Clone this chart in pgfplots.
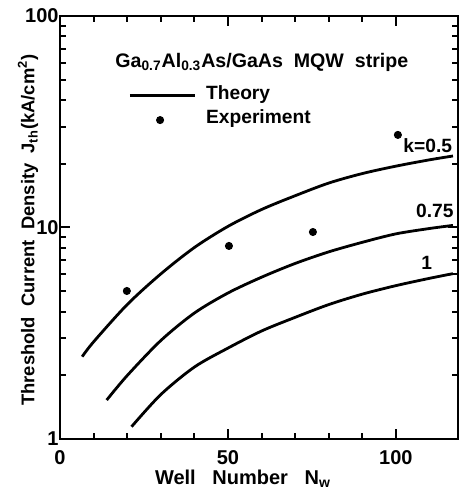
\documentclass[border=0pt]{standalone}
\usepackage{fontspec}
\setmainfont{Liberation Sans}
\usepackage{pgfplots}
\pgfplotsset{compat=1.18}

\begin{document}
\begin{tikzpicture}[font=\bfseries]
\begin{axis}[at={(0,0)}, anchor=south west,
  scale only axis, width=199pt, height=211.5pt,
  ymode=log, xmin=0, xmax=118.5, ymin=1, ymax=100,
  xtick={0,50,100}, minor x tick num=4,
  ytick={1,10,100}, yticklabels={1,10,100},
  tick align=inside, major tick length=5pt, minor tick length=3pt,
  every tick/.style={line width=1pt},
  axis line style={line width=1.4pt},
  /pgf/number format/assume math mode=true,
  ticklabel style={font=\bfseries\fontsize{10}{12}\selectfont},
  yticklabel style={inner xsep=0.5pt},
  xticklabel style={yshift=-2pt},
  clip=false]

% theory, k = 0.5
\addplot[smooth, line width=1.4pt] coordinates {
  (6.6,2.45) (10,2.88) (20,4.32) (30,6.03) (40,8.04) (50,10.12) (60,12.16)
  (70,14.13) (80,16.22) (90,17.99) (100,19.50) (110,20.89) (117,21.78)};
% theory, k = 0.75
\addplot[smooth, line width=1.4pt] coordinates {
  (13.9,1.528) (20,1.995) (30,2.92) (40,3.94) (50,4.90) (60,5.82)
  (70,6.76) (80,7.67) (90,8.51) (100,9.33) (110,9.89) (117,10.23)};
% theory, k = 1
\addplot[smooth, line width=1.4pt] coordinates {
  (21.3,1.143) (30,1.622) (40,2.188) (50,2.69) (60,3.24) (70,3.76)
  (80,4.32) (90,4.84) (100,5.31) (110,5.75) (117,6.05)};
% experiment
\addplot[only marks, mark=*, mark size=1.8pt] coordinates {
  (19.9,5.01) (50.3,8.18) (75.3,9.52) (100.6,27.4)};

% legend
\addplot[line width=1.4pt] coordinates {(20.8,41.9) (40.2,41.9)};
\addplot[only marks, mark=*, mark size=1.8pt] coordinates {(29.8,32.2)};
\node[anchor=west, font=\bfseries\fontsize{9.6}{12}\selectfont] at (axis cs:41.4,42.5) {Theory};
\node[anchor=west, font=\bfseries\fontsize{9.6}{12}\selectfont] at (axis cs:41.4,32.6) {Experiment};
\node[font=\bfseries\fontsize{9.8}{12}\selectfont] at (axis cs:60.1,60) {Ga\textsubscript{0.7}Al\textsubscript{0.3}As/GaAs\ \ MQW\ \ stripe};

% curve labels
\node[font=\bfseries\fontsize{9.6}{12}\selectfont] at (axis cs:109.5,24.5) {k=0.5};
\node[font=\bfseries\fontsize{9.6}{12}\selectfont] at (axis cs:111.6,12.0) {0.75};
\node[font=\bfseries\fontsize{9.6}{12}\selectfont] at (axis cs:109.2,6.8) {1};
\end{axis}

\node[rotate=90, font=\bfseries\fontsize{9.2}{12}\selectfont] at (-16pt,104.5pt)
  {Threshold\ \ Current\ \ Density\ \ J\textsubscript{th}(kA/cm\textsuperscript{2})};
\node[font=\bfseries\fontsize{10}{12}\selectfont] at (91.5pt,-20pt) {Well\ \ \ Number\ \ \ N\textsubscript{w}};

\pgfresetboundingbox
\path (-30pt,-25.5pt) rectangle (201.5pt,219.5pt);
\end{tikzpicture}
\end{document}
